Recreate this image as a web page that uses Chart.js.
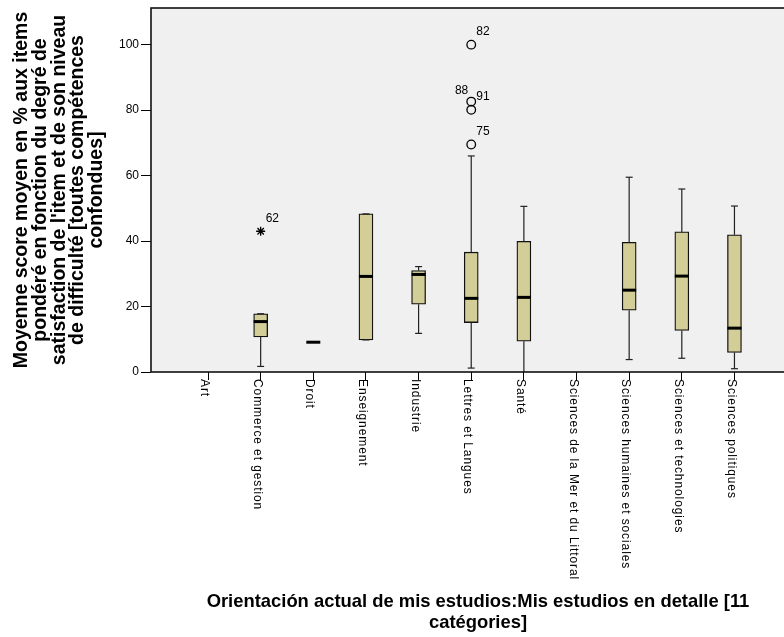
<!DOCTYPE html>
<html>
<head>
<meta charset="utf-8">
<script src="https://cdn.jsdelivr.net/npm/chart.js@4/dist/chart.umd.min.js"></script>
<style>
  html, body { margin: 0; padding: 0; background: #fff; overflow: hidden; }
  #wrap { width: 820px; height: 637px; }
</style>
</head>
<body>
<div id="wrap"><canvas id="c" width="820" height="637"></canvas></div>
<script>
// Study orientation categories
const categories = [
  'Art', 'Commerce et gestion', 'Droit', 'Enseignement', 'Industrie',
  'Lettres et Langues', 'Santé', 'Sciences de la Mer et du Littoral',
  'Sciences humaines et sociales', 'Sciences et technologies', 'Sciences politiques'
];

// Box-plot summaries per category (null = no respondents)
const whiskerLow  = [null,  1.7, 9.1,  9.8, 11.8,  1.2,  0.0, null,  3.8,  4.2,  1.0];
const q1          = [null, 10.7, 9.1,  9.8, 20.7, 15.1,  9.4, null, 18.9, 12.7,  6.0];
const median      = [null, 15.4, 9.1, 29.2, 29.8, 22.5, 22.8, null, 25.0, 29.3, 13.4];
const q3          = [null, 17.8, 9.1, 48.3, 31.0, 36.6, 39.9, null, 39.6, 42.8, 41.9];
const whiskerHigh = [null, 17.8, 9.1, 48.3, 32.2, 66.0, 50.6, null, 59.5, 55.9, 50.7];

// Outliers: category index, value, case id, extreme (*) or not (o)
const outlierCategory = [1, 5, 5, 5, 5];
const outlierValue    = [43.0, 100.0, 82.6, 80.1, 69.5];
const outlierId       = ['62', '82', '88', '91', '75'];
const outlierExtreme  = [true, false, false, false, false];

// Axis ticks
const yTicks = [0, 20, 40, 60, 80, 100];

const FONT = '"Liberation Sans", Arial, Helvetica, sans-serif';
Chart.defaults.font.family = FONT;
Chart.defaults.color = '#000';

// interquartile boxes as floating bars (empty categories left out)
const boxData = categories
  .map((c, i) => (q1[i] === null ? null : { x: i, y: [q1[i], q3[i]] }))
  .filter(d => d !== null);
const outlierData = outlierValue.map((v, i) => ({ x: outlierCategory[i], y: v }));

const boxPlot = {
  id: 'boxPlot',
  beforeDraw(chart) {
    const { ctx, chartArea: a } = chart;
    ctx.save();
    ctx.fillStyle = '#f0f0f0';
    ctx.fillRect(a.left, a.top, a.right - a.left, a.bottom - a.top);
    ctx.restore();
  },
  afterDatasetsDraw(chart) {
    const { ctx } = chart;
    const xs = chart.scales.x, ys = chart.scales.y;
    ctx.save();
    // whiskers and caps
    ctx.strokeStyle = '#222';
    ctx.lineWidth = 1.2;
    categories.forEach((c, i) => {
      if (q1[i] === null) return;
      const px = xs.getPixelForValue(i);
      const segs = [[whiskerLow[i], q1[i]], [q3[i], whiskerHigh[i]]];
      segs.forEach(([a, b]) => {
        if (a === b) return;
        ctx.beginPath();
        ctx.moveTo(px, ys.getPixelForValue(a));
        ctx.lineTo(px, ys.getPixelForValue(b));
        ctx.stroke();
      });
      [whiskerLow[i], whiskerHigh[i]].forEach(v => {
        if (v <= 0) return;
        const py = ys.getPixelForValue(v);
        ctx.beginPath();
        ctx.moveTo(px - 3.5, py);
        ctx.lineTo(px + 3.5, py);
        ctx.stroke();
      });
    });
    // medians
    ctx.strokeStyle = '#000';
    ctx.lineWidth = 3;
    categories.forEach((c, i) => {
      if (median[i] === null) return;
      const px = xs.getPixelForValue(i);
      const py = ys.getPixelForValue(median[i]);
      ctx.beginPath();
      ctx.moveTo(px - 7, py);
      ctx.lineTo(px + 7, py);
      ctx.stroke();
    });
    // outlier case labels
    ctx.font = '12px ' + FONT;
    ctx.fillStyle = '#000';
    ctx.textBaseline = 'middle';
    outlierValue.forEach((v, i) => {
      const px = xs.getPixelForValue(outlierCategory[i]);
      const py = ys.getPixelForValue(v);
      const crowded = outlierValue.some((w, j) =>
        j !== i && outlierCategory[j] === outlierCategory[i] && w < v && v - w < 4);
      if (crowded) {
        ctx.textAlign = 'right';
        ctx.fillText(outlierId[i], px - 3, py - 11);
      } else {
        ctx.textAlign = 'left';
        ctx.fillText(outlierId[i], px + 5, py - 13);
      }
    });
    ctx.restore();
  },
  afterDraw(chart) {
    const { ctx, chartArea: a } = chart;
    const xs = chart.scales.x;
    ctx.save();
    // plot frame
    ctx.strokeStyle = '#111';
    ctx.lineWidth = 1.6;
    ctx.strokeRect(a.left, a.top, a.right - a.left, a.bottom - a.top);
    // category labels, reading downward
    ctx.font = '12px ' + FONT;
    ctx.fillStyle = '#000';
    ctx.textAlign = 'left';
    ctx.textBaseline = 'top';
    if ('letterSpacing' in ctx) ctx.letterSpacing = '0.9px';
    categories.forEach((c, i) => {
      const px = xs.getPixelForValue(i);
      ctx.save();
      ctx.translate(px + 2.5, a.bottom + 7);
      ctx.rotate(Math.PI / 2);
      ctx.fillText(c, 0, 0);
      ctx.restore();
    });
    ctx.restore();
  }
};

new Chart(document.getElementById('c'), {
  type: 'bar',
  data: {
    datasets: [
      {
        type: 'bar',
        data: boxData,
        backgroundColor: '#d3ce98',
        borderColor: '#111',
        borderWidth: 1.3,
        borderSkipped: false,
        barThickness: 14,
        order: 2
      },
      {
        type: 'scatter',
        data: outlierData,
        pointStyle: outlierExtreme.map(e => e ? 'star' : 'circle'),
        pointRadius: outlierExtreme.map(e => e ? 4.5 : 4.3),
        borderColor: '#000',
        backgroundColor: 'rgba(0,0,0,0)',
        borderWidth: 1.3,
        order: 1
      }
    ]
  },
  options: {
    responsive: false,
    animation: false,
    layout: { padding: { top: 7, right: 15, bottom: 0, left: 0 } },
    plugins: { legend: { display: false }, tooltip: { enabled: false } },
    scales: {
      x: {
        type: 'linear',
        offset: false,
        min: -1.083,
        max: 11.34,
        afterBuildTicks: axis => { axis.ticks = categories.map((c, i) => ({ value: i })); },
        afterFit: axis => { axis.height = 265; },
        ticks: { display: false },
        grid: { offset: false, drawOnChartArea: false, drawTicks: true, tickLength: 8, color: '#000', lineWidth: 1 },
        border: { display: false },
        title: {
          display: true,
          text: ['Orientación actual de mis estudios:Mis estudios en detalle [11', 'catégories]'],
          font: { size: 18.4, weight: 'bold', lineHeight: 1.13 },
          color: '#000',
          padding: { top: 0, bottom: 3.6 }
        }
      },
      y: {
        type: 'linear',
        min: 0,
        max: 111.2,
        afterBuildTicks: axis => { axis.ticks = yTicks.map(v => ({ value: v })); },
        afterFit: axis => { axis.width = 151; },
        ticks: { font: { size: 12, lineHeight: 1.0 }, color: '#000', padding: 2 },
        grid: { drawOnChartArea: false, drawTicks: true, tickLength: 10, color: '#000', lineWidth: 1 },
        border: { display: false },
        title: {
          display: true,
          text: [
            'Moyenne score moyen en % aux items',
            'pondéré en fonction du degré de',
            "satisfaction de l'item et de son niveau",
            'de difficulté [toutes compétences',
            'confondues]'
          ],
          font: { size: 19.5, weight: 'bold', lineHeight: 0.96 },
          color: '#000',
          padding: { top: 12.5, bottom: 0 }
        }
      }
    }
  },
  plugins: [boxPlot]
});
</script>
</body>
</html>
